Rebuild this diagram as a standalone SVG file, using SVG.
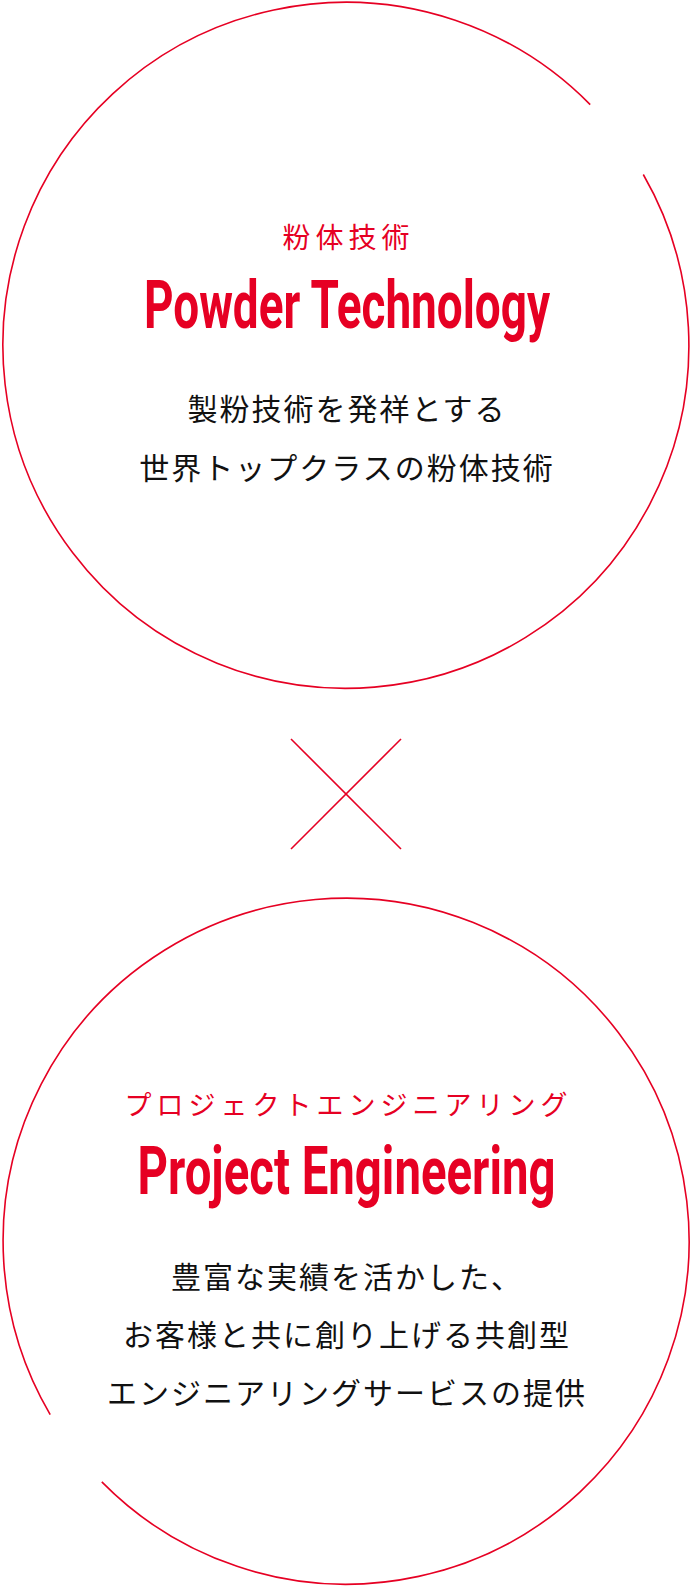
<svg xmlns="http://www.w3.org/2000/svg" width="692" height="1590" viewBox="0 0 692 1590">
<style>
.ring{fill:none;stroke:#e60023;stroke-width:1.6}
.jp-red{font-family:"Noto Sans CJK JP","Noto Sans",sans-serif;fill:#e60023;text-anchor:middle}
.en{font-family:Roboto,"DejaVu Sans",sans-serif;font-weight:700;fill:#e60023;text-anchor:middle}
.jp{font-family:"Noto Sans CJK JP","Noto Sans",sans-serif;fill:#111;font-size:30px;letter-spacing:2px;text-anchor:middle}
</style>
<rect width="692" height="1590" fill="#fff"/>
<g id="node-powder">
<path class="ring" d="M 643.3 174.5 A 343 343 0 1 1 590.2 104.6"/>
<text class="jp-red" x="348.5" y="248" font-size="28" letter-spacing="5">粉体技術</text>
<text class="en" x="347" y="328" font-size="66" textLength="406" lengthAdjust="spacingAndGlyphs">Powder Technology</text>
<text class="jp" x="347" y="420">製粉技術を発祥とする</text>
<text class="jp" x="347" y="479">世界トップクラスの粉体技術</text>
</g>
<g id="connectors">
<line class="ring" x1="291" y1="739" x2="401" y2="849"/>
<line class="ring" x1="401" y1="739" x2="291" y2="849"/>
</g>
<g id="node-project">
<path class="ring" d="M 50.2 1414.6 A 343 343 0 1 1 101.8 1481.9"/>
<text class="jp-red" x="348.5" y="1115" font-size="27" letter-spacing="5">プロジェクトエンジニアリング</text>
<text class="en" x="346.5" y="1194" font-size="66" textLength="418" lengthAdjust="spacingAndGlyphs">Project Engineering</text>
<text class="jp" x="347" y="1288">豊富な実績を活かした、</text>
<text class="jp" x="347" y="1346">お客様と共に創り上げる共創型</text>
<text class="jp" x="347" y="1404">エンジニアリングサービスの提供</text>
</g>
</svg>
